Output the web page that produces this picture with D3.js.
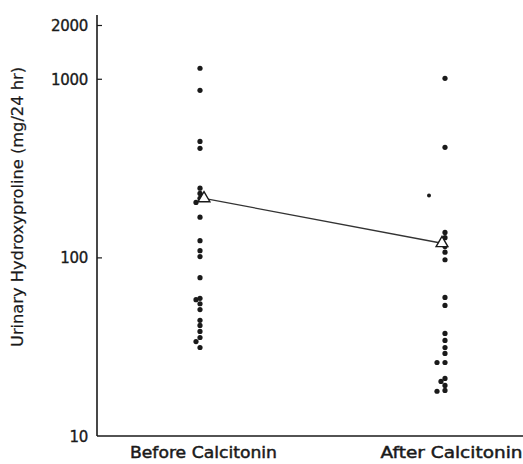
<!DOCTYPE html>
<html>
<head>
<meta charset="utf-8">
<script src="https://cdn.jsdelivr.net/npm/d3@7"></script>
<style>
  html, body { margin: 0; padding: 0; background: #fff; }
  svg { display: block; }
  text { font-family: "DejaVu Sans", sans-serif; fill: #1a1a1a; }
</style>
</head>
<body>
<svg id="chart" width="523" height="464"></svg>
<script>
// Groups along the horizontal axis
const categories = ["Before Calcitonin", "After Calcitonin"];

// Individual patient values, mg/24 hr
const beforeValues = [1145, 862, 446, 408, 244, 228, 214, 203, 168, 124, 109, 101,
  77, 59, 58, 55, 51, 44.4, 41.6, 38.5, 35.6, 33.8, 31.3];
const afterValues = [1006, 413, 138, 129, 115, 107, 97, 59.7, 53.8,
  37.5, 34.3, 31.3, 29.0, 25.8, 25.8, 21.0, 20.2, 19.2, 18.0, 17.8];
// A single value plotted beside the "after" column
const afterOutlier = [222];

// Group means (open triangles joined by a line)
const meanValues = [214, 120];

// Y-axis tick values and labels
const yTicks = [10, 100, 1000, 2000];
const yTickLabels = ["10", "100", "1000", "2000"];

const yTitle = "Urinary Hydroxyproline (mg/24 hr)";

const svg = d3.select("#chart");
const ink = "#1a1a1a";

const x = d3.scalePoint().domain(categories).range([200, 445]);
const y = d3.scaleLog().domain([10, 2000]).range([436, 25]);

// Y axis
const yAxis = d3.axisRight(y)
  .tickValues(yTicks)
  .tickFormat((d, i) => yTickLabels[i])
  .tickSize(5)
  .tickSizeOuter(0);

const gy = svg.append("g").attr("transform", "translate(97,0)").call(yAxis);
gy.select(".domain").attr("d", "M0,15V436").attr("stroke", ink).attr("stroke-width", 1.6);
gy.selectAll(".tick line").attr("stroke", ink).attr("stroke-width", 1.2)
  .attr("x2", d => d === 10 ? 0 : 5);
gy.selectAll(".tick text")
  .attr("x", -9)
  .attr("text-anchor", "end")
  .attr("font-size", 15)
  .attr("dy", "0.36em")
  .attr("letter-spacing", -0.3)
  .style("fill", ink)
  .style("stroke", ink)
  .style("stroke-width", 0.35);

// X axis
const xAxis = d3.axisBottom(x).tickSize(0).tickSizeOuter(0);
const gx = svg.append("g").attr("transform", "translate(0,436)").call(xAxis);
gx.select(".domain").attr("d", "M97,0H523").attr("stroke", ink).attr("stroke-width", 1.6);
gx.selectAll(".tick text")
  .attr("y", 11)
  .attr("dx", (d, i) => i === 0 ? 3 : 6)
  .attr("font-size", 15)
  .attr("textLength", (d, i) => i === 0 ? 147 : 142)
  .attr("lengthAdjust", "spacingAndGlyphs")
  .style("fill", ink)
  .style("stroke", ink)
  .style("stroke-width", 0.45);

// Y title
svg.append("text")
  .attr("transform", "translate(23,207) rotate(-90)")
  .attr("text-anchor", "middle")
  .attr("font-size", 15)
  .attr("textLength", 280)
  .attr("lengthAdjust", "spacingAndGlyphs")
  .style("stroke", ink)
  .style("stroke-width", 0.2)
  .text(yTitle);

// Place dots in a column, nudging sideways where they would overlap
function dodge(values, cx, minDist, step) {
  const placed = [];
  values.slice().sort((a, b) => b - a).forEach(v => {
    const py = y(v);
    const offsets = [0, -step, step, -2 * step, 2 * step];
    for (const o of offsets) {
      const px = cx + o;
      if (placed.every(p => Math.hypot(p.x - px, p.y - py) >= minDist)) {
        placed.push({ x: px, y: py, v });
        break;
      }
    }
  });
  return placed;
}

const r = 2.6;
const pts = [
  ...dodge(beforeValues, x(categories[0]), 4.2, 4),
  ...dodge(afterValues, x(categories[1]), 4.2, 4)
];

svg.append("g").selectAll("circle.pt")
  .data(pts)
  .join("circle")
  .attr("class", "pt")
  .attr("cx", d => d.x)
  .attr("cy", d => d.y)
  .attr("r", r)
  .attr("fill", ink);

svg.append("g").selectAll("circle.out")
  .data(afterOutlier)
  .join("circle")
  .attr("class", "out")
  .attr("cx", x(categories[1]) - 16)
  .attr("cy", d => y(d))
  .attr("r", 2)
  .attr("fill", ink);

// Mean line and triangles
const meanPts = categories.map((c, i) => ({ x: x(c) + (i === 0 ? 4 : -3), y: y(meanValues[i]) }));

svg.append("line")
  .attr("x1", meanPts[0].x).attr("y1", meanPts[0].y)
  .attr("x2", meanPts[1].x).attr("y2", meanPts[1].y)
  .attr("stroke", "#333").attr("stroke-width", 1.3);

const tri = d3.symbol().type(d3.symbolTriangle).size(60);
svg.append("g").selectAll("path.mean")
  .data(meanPts)
  .join("path")
  .attr("class", "mean")
  .attr("transform", d => `translate(${d.x},${d.y})`)
  .attr("d", tri)
  .attr("fill", "#fff")
  .attr("stroke", ink)
  .attr("stroke-width", 1.4);
</script>
</body>
</html>
